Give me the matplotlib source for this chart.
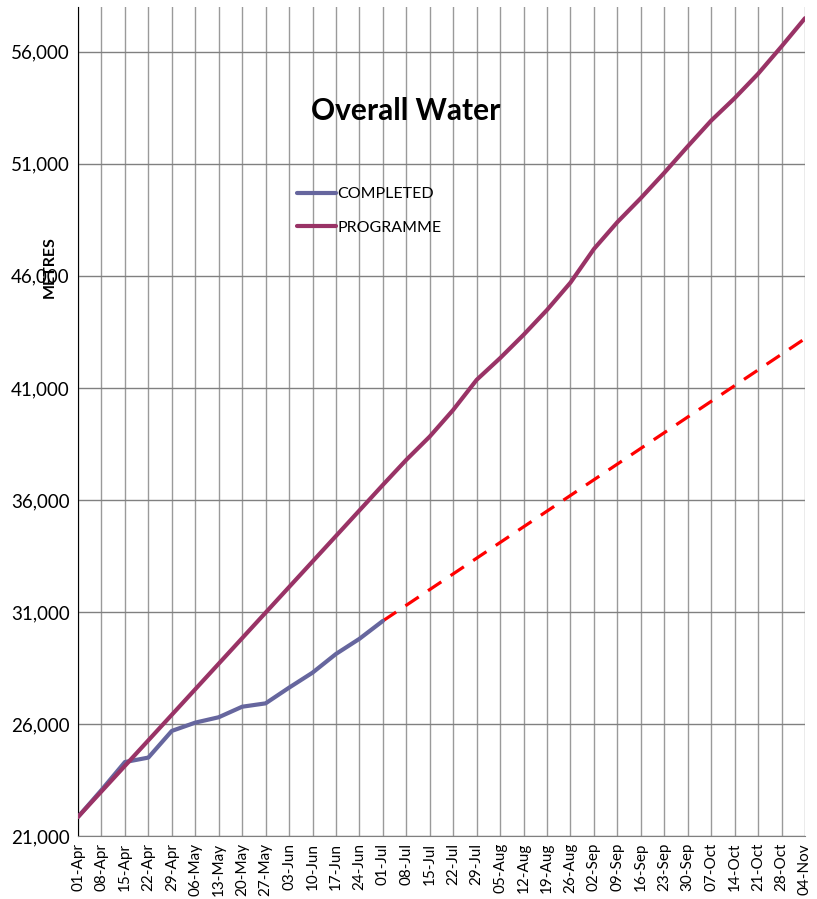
import numpy as np
import matplotlib
matplotlib.use('Agg')
from matplotlib import pyplot as plt
from matplotlib.ticker import FuncFormatter

matplotlib.rcParams['font.family'] = ['Lato', 'DejaVu Sans']

# weekly dates
weeks = ['01-Apr', '08-Apr', '15-Apr', '22-Apr', '29-Apr', '06-May', '13-May', '20-May',
         '27-May', '03-Jun', '10-Jun', '17-Jun', '24-Jun', '01-Jul', '08-Jul', '15-Jul',
         '22-Jul', '29-Jul', '05-Aug', '12-Aug', '19-Aug', '26-Aug', '02-Sep', '09-Sep',
         '16-Sep', '23-Sep', '30-Sep', '07-Oct', '14-Oct', '21-Oct', '28-Oct', '04-Nov']

# metres completed (up to 01-Jul)
completed = [21850, 23050, 24300, 24500, 25690, 26060, 26300, 26770, 26920, 27620,
             28290, 29125, 29800, 30600]

# programme
programme = [21850, 22990, 24130, 25270, 26410, 27550, 28690, 29830, 30970, 32110,
             33250, 34390, 35530, 36670, 37790, 38830, 40020, 41360, 42330, 43370,
             44480, 45700, 47200, 48400, 49470, 50600, 51780, 52930, 53930, 55020,
             56240, 57500]

# projected trend of completed (start / end)
trend_weeks = [13, 31]
trend_vals = [30600, 43200]

yticks = [21000, 26000, 31000, 36000, 41000, 46000, 51000, 56000]

fig = plt.figure(figsize=(8.17, 8.99), dpi=100)
ax = fig.add_axes([78/817, 1-836/899, (805-78)/817, (836-7)/899])

x = np.arange(len(weeks))
ax.plot(trend_weeks, trend_vals, color='#FF0000', lw=2.3, ls=(0, (5, 3.5)), zorder=3)
ax.plot(x[:len(completed)], completed, color='#66669E', lw=3, label='COMPLETED', zorder=4,
        solid_capstyle='round', solid_joinstyle='round')
ax.plot(x, programme, color='#993366', lw=3, label='PROGRAMME', zorder=5,
        solid_capstyle='round', solid_joinstyle='round')

ax.set_xlim(0, 31)
ax.set_ylim(21000, 58000)
ax.set_xticks(x)
ax.set_xticklabels(weeks, rotation=90, fontsize=11)
ax.set_yticks(yticks)
ax.yaxis.set_major_formatter(FuncFormatter(lambda v, p: '{:,.0f}'.format(v)))
ax.tick_params(axis='y', labelsize=13.5, length=0, pad=6)
ax.tick_params(axis='x', length=0, pad=5)

ax.grid(True, axis='y', color='#808080', lw=1)
ax.grid(True, axis='x', color='#9A9A9A', lw=1)
ax.set_axisbelow(True)
for s in ['top', 'right']:
    ax.spines[s].set_visible(False)
ax.spines['left'].set_color('black')
ax.spines['bottom'].set_color('#808080')

ax.text(0.451, 0.874, 'Overall Water', transform=ax.transAxes, ha='center', va='center',
        fontsize=21.5, fontweight='bold')
fig.text(50/817, 1-267/899, 'METRES', rotation=90, ha='center', va='center',
         fontsize=11.5, fontweight='bold')

ax.legend(loc='upper left', bbox_to_anchor=(0.282, 0.80), frameon=False,
          fontsize=11.5, handlelength=2.4, labelspacing=1.2, handletextpad=0.1)

fig.savefig('out.png', dpi=100)
